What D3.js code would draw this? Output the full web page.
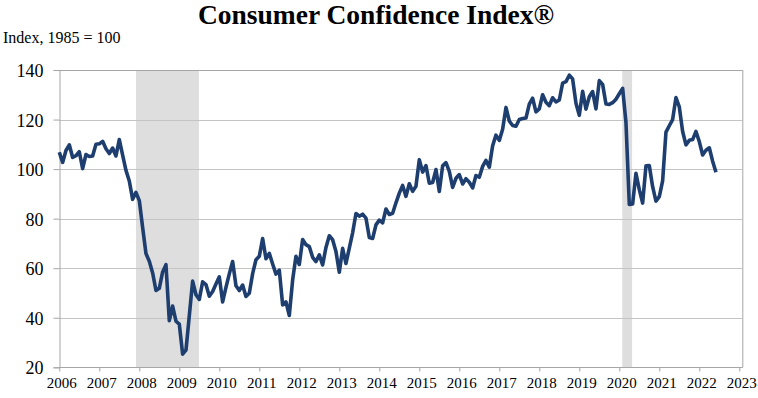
<!DOCTYPE html>
<html><head><meta charset="utf-8">
<script src="https://cdn.jsdelivr.net/npm/d3@7"></script>
<style>body{margin:0;background:#fff}svg{display:block}</style>
</head><body>
<svg id="c" width="758" height="398"></svg>
<script>
const startYear = 2006;
const cci = [
106.8,102.7,107.5,109.8,104.7,105.4,107.0,100.2,105.9,105.1,105.3,110.0,
110.2,111.2,108.2,106.3,108.5,105.3,111.9,105.6,99.5,95.2,87.8,90.6,
87.3,76.4,65.9,62.8,58.1,51.0,51.9,58.5,61.4,38.8,44.7,38.6,
37.4,25.3,26.9,40.8,54.8,49.3,47.4,54.5,53.4,48.7,50.6,53.6,
56.5,46.4,52.3,57.7,62.7,52.9,51.0,53.2,48.6,49.9,57.8,63.4,
64.8,72.0,63.8,66.0,61.7,57.6,59.2,45.2,46.4,40.9,55.2,64.8,
61.5,71.6,69.5,68.7,64.4,62.7,65.4,61.3,68.4,73.1,71.5,66.7,
58.4,68.0,61.9,68.1,74.3,82.1,81.0,81.8,80.2,72.4,72.0,77.5,
79.4,78.3,83.9,81.7,82.2,86.4,90.3,93.4,89.0,94.1,91.0,93.1,
103.8,98.8,101.4,94.3,94.6,99.8,91.0,101.3,102.6,99.1,92.6,96.3,
97.8,94.0,96.1,94.7,92.4,97.4,96.7,101.1,103.5,100.8,109.4,113.7,
111.6,116.1,124.9,119.4,117.6,117.3,120.0,120.4,120.6,126.2,128.6,123.1,
124.3,130.0,127.0,125.6,128.8,127.1,127.9,134.7,135.3,137.9,136.4,126.6,
121.7,131.4,124.2,129.2,131.3,124.3,135.7,134.2,126.3,126.1,126.8,128.2,
130.4,132.6,118.8,85.7,85.9,98.3,91.7,86.3,101.3,101.4,92.9,87.1,
88.9,95.2,114.9,117.5,120.0,128.9,125.1,115.2,109.8,111.6,111.9,115.2,
111.1,105.7,107.6,108.6,103.2,98.7
];
// recessions as [start, end] in fractional years
const recessions = [[2007.917, 2009.49], [2020.075, 2020.32]];
const yTicks = [20, 40, 60, 80, 100, 120, 140];
const xTicks = d3.range(2006, 2024);

const SERIF = '"Liberation Serif", "Times New Roman", serif';
const svg = d3.select("#c");
const L = 59.3, R = 742.3, T = 70, B = 367.3;
const x = d3.scaleLinear().domain([2006, 2023]).range([L, L + 680]);
const y = d3.scaleLinear().domain([20, 140]).range([B, T]);

svg.append("text").attr("x", 376).attr("y", 23.5).attr("text-anchor", "middle")
  .style("font-family", SERIF).style("font-weight", "bold").style("font-size", "27.5px")
  .text("Consumer Confidence Index®");
svg.append("text").attr("x", 3).attr("y", 43)
  .style("font-family", SERIF).style("font-size", "16px").text("Index, 1985 = 100");

// recession shading
svg.append("g").selectAll("rect").data(recessions).join("rect")
  .attr("x", d => x(d[0])).attr("width", d => x(d[1]) - x(d[0]))
  .attr("y", T).attr("height", B - T).attr("fill", "#dedede");

// gridlines
svg.append("g").selectAll("line").data(yTicks.filter(v => v > 20 && v < 140)).join("line")
  .attr("x1", L).attr("x2", R).attr("y1", d => Math.round(y(d)) + 0.5).attr("y2", d => Math.round(y(d)) + 0.5)
  .attr("stroke", "#c4c4c4").attr("stroke-width", 1);

// frame top and right
svg.append("line").attr("x1", L).attr("x2", R).attr("y1", T + 0.5).attr("y2", T + 0.5).attr("stroke", "#a6a6a6");
svg.append("line").attr("x1", R + 0.5).attr("x2", R + 0.5).attr("y1", T).attr("y2", B).attr("stroke", "#a6a6a6");

// y axis
const yAxis = svg.append("g").attr("transform", `translate(${Math.round(L) + 0.5},0)`)
  .call(d3.axisLeft(y).tickValues(yTicks).tickSize(6).tickPadding(10).tickFormat(d3.format("d")));
yAxis.select(".domain").attr("stroke", "#a6a6a6");
yAxis.selectAll(".tick line").attr("stroke", "#a6a6a6");
yAxis.selectAll("text").style("font-family", SERIF).style("font-size", "18px")
  .attr("fill", "#000").attr("dy", "0.36em");

// x axis
const xAxis = svg.append("g").attr("transform", `translate(0,${Math.round(B) + 0.5})`)
  .call(d3.axisBottom(x).tickValues(xTicks).tickSize(4).tickPadding(6).tickFormat(d3.format("d")));
xAxis.select(".domain").attr("d", `M${L},0H${R + 0.5}`).attr("stroke", "#a6a6a6");
xAxis.selectAll(".tick line").attr("stroke", "#a6a6a6");
xAxis.selectAll("text").style("font-family", SERIF).style("font-size", "15px")
  .attr("fill", "#000").attr("dx", 2);

// line
const line = d3.line().x((d, i) => x(startYear + i / 12)).y(d => y(d));
svg.append("path").datum(cci).attr("d", line).attr("fill", "none")
  .attr("stroke", "#1d3e6e").attr("stroke-width", 3.6).attr("stroke-linejoin", "round");
</script>
</body></html>
